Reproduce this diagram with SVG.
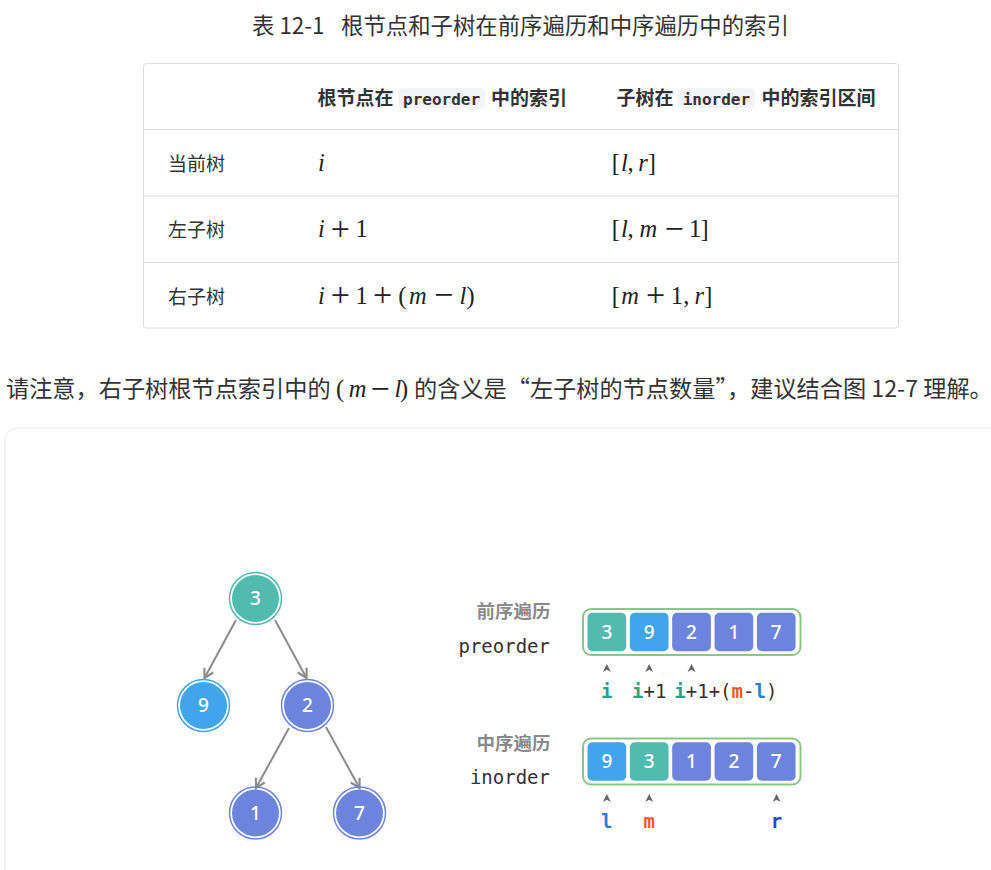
<svg xmlns="http://www.w3.org/2000/svg" width="991" height="870" viewBox="0 0 991 870">
<defs>
<style>
.cjk{font-family:"Noto Sans CJK SC","Noto Sans",sans-serif;fill:#333}
.b{font-weight:700}
.mono{font-family:"DejaVu Sans Mono","Liberation Mono",monospace}
.mi{font-family:"Liberation Serif",serif;font-style:italic;font-size:24.5px;fill:#222}
.mr{font-family:"Liberation Serif",serif;font-size:24.5px;fill:#222}
.op{font-family:"Liberation Serif",serif;font-size:34px;fill:#222}
.codebg{fill:#f3f4f5}
.grid{stroke:#dcdcdc;stroke-width:1;fill:none}
.edge{stroke:#8c8c8c;stroke-width:2;fill:none}
.num{font-family:"Noto Sans","Open Sans",sans-serif;font-size:19px;font-weight:500;fill:#fff;text-anchor:middle}
.teal{fill:#52bbaf}.tealS{stroke:#52bbaf}
.blue{fill:#40a5eb}.blueS{stroke:#40a5eb}
.purp{fill:#6c84dc}.purpS{stroke:#6c84dc}
.ring{fill:none;stroke-width:1.5}
.arr{fill:none;stroke:#89c68a;stroke-width:2}
.tick{fill:#666}
.lbl{font-family:"DejaVu Sans Mono","Liberation Mono",monospace;font-size:19px;fill:#333}
</style>
<marker id="ah" markerUnits="userSpaceOnUse" viewBox="-11 -7 13 14" refX="0" refY="0" markerWidth="13" markerHeight="14" orient="auto">
<path d="M-9,-5 L0,0 L-9,5" fill="none" stroke="#8c8c8c" stroke-width="2.2"/>
</marker>
</defs>
<rect width="991" height="870" fill="#fff"/>

<!-- title -->
<g id="title">
<text class="cjk" font-size="22.4" y="33.5"><tspan x="252">表 12-1</tspan><tspan x="341">根节点和子树在前序遍历和中序遍历中的索引</tspan></text>
</g>

<!-- table -->
<g id="table">
<rect x="143.5" y="63.5" width="755" height="264.5" rx="3" class="grid"/>
<line x1="143.5" y1="129.5" x2="898.5" y2="129.5" class="grid"/>
<line x1="143.5" y1="196" x2="898.5" y2="196" class="grid"/>
<line x1="143.5" y1="262.5" x2="898.5" y2="262.5" class="grid"/>
<rect x="398.3" y="88.3" width="86.7" height="20" rx="4" class="codebg"/>
<rect x="677.3" y="88.3" width="77.7" height="20" rx="4" class="codebg"/>
<text class="cjk b" font-size="19" y="105"><tspan x="317.5">根节点在</tspan><tspan x="403" class="mono" font-size="16">preorder</tspan><tspan x="491">中的索引</tspan></text>
<text class="cjk b" font-size="19" y="105"><tspan x="616.5">子树在</tspan><tspan x="682.7" class="mono" font-size="16">inorder</tspan><tspan x="761.5">中的索引区间</tspan></text>

<text class="cjk" font-size="19" x="168" y="170.5">当前树</text>
<text class="cjk" font-size="19" x="168" y="237">左子树</text>
<text class="cjk" font-size="19" x="168" y="303.5">右子树</text>

<!-- row1 -->
<text class="mi" text-anchor="middle" x="321.5" y="170.5">i</text>
<text text-anchor="middle" y="170.5"><tspan class="mr" x="615.9">[</tspan><tspan class="mi" x="624.5">l</tspan><tspan class="mr" x="630.5">,</tspan><tspan class="mi" x="643">r</tspan><tspan class="mr" x="651.9">]</tspan></text>
<!-- row2 -->
<text text-anchor="middle" y="237"><tspan class="mi" x="321.5">i</tspan><tspan class="mr" x="361.5">1</tspan></text>
<text class="op" text-anchor="middle" x="340.4" y="239.5">+</text>
<text text-anchor="middle" y="237"><tspan class="mr" x="615.9">[</tspan><tspan class="mi" x="624.5">l</tspan><tspan class="mr" x="630.5">,</tspan><tspan class="mi" x="648.3">m</tspan><tspan class="mr" x="695">1</tspan><tspan class="mr" x="704.5">]</tspan></text>
<text class="op" text-anchor="middle" x="674" y="239.5">−</text>
<!-- row3 -->
<text text-anchor="middle" y="303.5"><tspan class="mi" x="321.5">i</tspan><tspan class="mr" x="361.5">1</tspan><tspan class="mr" x="402.3">(</tspan><tspan class="mi" x="417.8">m</tspan><tspan class="mi" x="463">l</tspan><tspan class="mr" x="470.5">)</tspan></text>
<text class="op" text-anchor="middle" y="306"><tspan x="340.4">+</tspan><tspan x="382.5">+</tspan><tspan x="443.5">−</tspan></text>
<text text-anchor="middle" y="303.5"><tspan class="mr" x="615.9">[</tspan><tspan class="mi" x="630">m</tspan><tspan class="mr" x="676.8">1</tspan><tspan class="mr" x="686.3">,</tspan><tspan class="mi" x="699.3">r</tspan><tspan class="mr" x="708.3">]</tspan></text>
<text class="op" text-anchor="middle" x="655.7" y="306">+</text>
</g>

<!-- sentence -->
<g id="note">
<text class="cjk" font-size="23.2" y="397"><tspan x="6">请注意，右子树根节点索引中的</tspan><tspan x="414">的含义是“左子树的节点数量”，建议结合图 12-7 理解。</tspan></text>
<text text-anchor="middle" y="397"><tspan class="mr" font-size="32" x="340">(</tspan><tspan class="mi" font-size="26" x="357.5">m</tspan><tspan class="mi" font-size="26" x="398">l</tspan><tspan class="mr" font-size="32" x="404">)</tspan></text>
<text class="op" text-anchor="middle" x="380" y="400">−</text>
</g>

<!-- card -->
<rect x="5" y="428" width="1000" height="470" rx="12" fill="#fff" stroke="#e9e9e9" stroke-width="1"/>

<!-- tree edges -->
<g id="edges">
<line x1="236" y1="620" x2="204.5" y2="678" class="edge" marker-end="url(#ah)"/>
<line x1="275" y1="620" x2="306.5" y2="678" class="edge" marker-end="url(#ah)"/>
<line x1="289" y1="728" x2="256" y2="788" class="edge" marker-end="url(#ah)"/>
<line x1="326" y1="727" x2="359.5" y2="788" class="edge" marker-end="url(#ah)"/>
</g>

<g id="node-3"><circle cx="255.5" cy="598.5" r="26" class="ring tealS"/><circle cx="255.5" cy="598.5" r="23.5" class="teal"/><text class="num" x="255.5" y="605">3</text></g>
<g id="node-9"><circle cx="203.5" cy="705.5" r="26" class="ring blueS"/><circle cx="203.5" cy="705.5" r="23.5" class="blue"/><text class="num" x="203.5" y="712">9</text></g>
<g id="node-2"><circle cx="307.5" cy="705.5" r="26" class="ring purpS"/><circle cx="307.5" cy="705.5" r="23.5" class="purp"/><text class="num" x="307.5" y="712">2</text></g>
<g id="node-1"><circle cx="255.5" cy="813" r="26" class="ring purpS"/><circle cx="255.5" cy="813" r="23.5" class="purp"/><text class="num" x="255.5" y="819.5">1</text></g>
<g id="node-7"><circle cx="359.5" cy="813" r="26" class="ring purpS"/><circle cx="359.5" cy="813" r="23.5" class="purp"/><text class="num" x="359.5" y="819.5">7</text></g>

<!-- preorder array -->
<g id="preorder">
<text class="cjk b" font-size="18.5" style="fill:#8a8a8a" text-anchor="end" x="550.5" y="618">前序遍历</text>
<text class="lbl" text-anchor="end" x="550" y="653">preorder</text>
<rect x="583" y="609" width="217.5" height="46" rx="8" class="arr"/>
<rect x="587.5" y="612.8" width="38.7" height="38.5" rx="5" class="teal"/>
<rect x="629.85" y="612.8" width="38.7" height="38.5" rx="5" class="blue"/>
<rect x="672.2" y="612.8" width="38.7" height="38.5" rx="5" class="purp"/>
<rect x="714.55" y="612.8" width="38.7" height="38.5" rx="5" class="purp"/>
<rect x="756.9" y="612.8" width="38.7" height="38.5" rx="5" class="purp"/>
<text class="num" y="638.5"><tspan x="606.85">3</tspan><tspan x="649.2">9</tspan><tspan x="691.55">2</tspan><tspan x="733.9">1</tspan><tspan x="776.25">7</tspan></text>
<path class="tick" d="M606.85,664 l4,8 l-4,-2.3 l-4,2.3 z M649.2,664 l4,8 l-4,-2.3 l-4,2.3 z M691.55,664 l4,8 l-4,-2.3 l-4,2.3 z"/>
<text class="lbl" y="698"><tspan x="601.1" font-weight="700" fill="#2f9e8f">i</tspan><tspan x="632" font-weight="700" fill="#2f9e8f">i</tspan><tspan>+1</tspan><tspan x="674.3" font-weight="700" fill="#2f9e8f">i</tspan><tspan>+1+(</tspan><tspan font-weight="700" fill="#ec5a1c">m</tspan><tspan>-</tspan><tspan font-weight="700" fill="#2a80d4">l</tspan><tspan>)</tspan></text>
</g>

<!-- inorder array -->
<g id="inorder">
<text class="cjk b" font-size="18.5" style="fill:#8a8a8a" text-anchor="end" x="550.5" y="750">中序遍历</text>
<text class="lbl" text-anchor="end" x="550" y="783.5">inorder</text>
<rect x="583" y="738.5" width="217.5" height="46" rx="8" class="arr"/>
<rect x="587.5" y="742.3" width="38.7" height="38.5" rx="5" class="blue"/>
<rect x="629.85" y="742.3" width="38.7" height="38.5" rx="5" class="teal"/>
<rect x="672.2" y="742.3" width="38.7" height="38.5" rx="5" class="purp"/>
<rect x="714.55" y="742.3" width="38.7" height="38.5" rx="5" class="purp"/>
<rect x="756.9" y="742.3" width="38.7" height="38.5" rx="5" class="purp"/>
<text class="num" y="768"><tspan x="606.85">9</tspan><tspan x="649.2">3</tspan><tspan x="691.55">1</tspan><tspan x="733.9">2</tspan><tspan x="776.25">7</tspan></text>
<path class="tick" d="M606.85,794 l4,8 l-4,-2.3 l-4,2.3 z M649.2,794 l4,8 l-4,-2.3 l-4,2.3 z M776.6,794 l4,8 l-4,-2.3 l-4,2.3 z"/>
<text class="lbl" font-weight="700" text-anchor="middle" y="828"><tspan x="606.85" fill="#2a80d4">l</tspan><tspan x="649.2" fill="#ec5a1c">m</tspan><tspan x="776.6" fill="#2848c8">r</tspan></text>
</g>
</svg>
